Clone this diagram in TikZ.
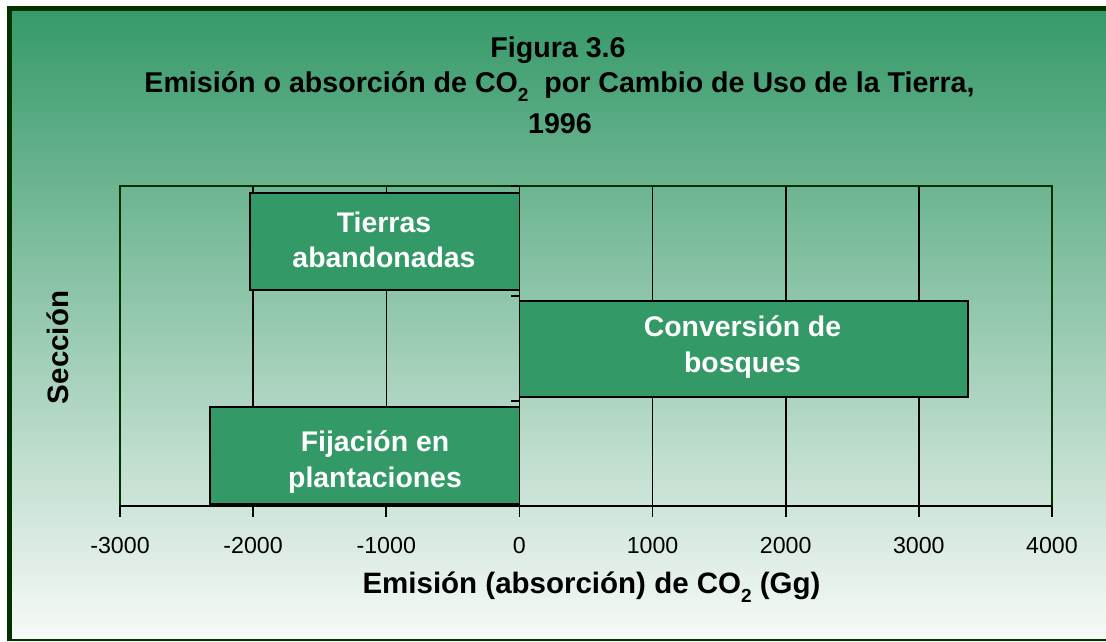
\documentclass[tikz,border=0pt]{standalone}
\usepackage{fontspec}
\setmainfont{Liberation Sans}

\definecolor{verdebarra}{RGB}{51,153,102}
\definecolor{verdeborde}{RGB}{0,51,0}
\definecolor{fondoalto}{RGB}{53,153,104}
\definecolor{fondobajo}{RGB}{248,250,248}

% subindice del CO2
\newcommand{\subdos}[1]{\raisebox{-0.32em}{\fontsize{19}{19}\selectfont #1}}

\tikzset{
  barra/.style={draw=black, fill=verdebarra, line width=1.8pt},
  etiqueta/.style={text=white, align=center, inner sep=0pt,
    font=\fontsize{28.4}{35.5}\selectfont\bfseries},
  titulo/.style={anchor=base, inner sep=0pt, font=\fontsize{28.6}{33}\selectfont\bfseries},
  marca/.style={anchor=base, inner sep=0pt, font=\fontsize{23.2}{26}\selectfont},
  eje/.style={black, line width=1.8pt},
  rejilla/.style={black, line width=1.6pt},
  marco/.style={verdeborde, line width=1.6pt}
}

\begin{document}
\begin{tikzpicture}[x=1pt, y=-1pt]
    \useasboundingbox (0,0) rectangle (1106,641);
    \fill[white] (0,0) rectangle (1106,641);
    \shade[top color=fondoalto, bottom color=fondobajo] (7,6) rectangle (1106,641);
    \draw[verdeborde, line width=5pt] (9.8,641) -- (9.8,8.5) -- (1106,8.5);
    \draw[verdeborde, line width=1.5pt] (9.8,640) -- (1106,640);

    % titulo
    \node[titulo] (fig) at (558,57) {Figura 3.6};
    \node[titulo] (tit) at (559.5,92) {Emisión o absorción de CO\subdos{2}\ \ por Cambio de Uso de la Tierra,};
    \node[titulo] (anio) at (560,133) {1996};

    % rejilla y marco
    \foreach \x in {253.1,386.3,652.6,785.7,918.8}
        \draw[rejilla] (\x,186) -- (\x,506);
    \draw[marco] (120,506) -- (120,186) -- (1052,186) -- (1052,506);

    % barras
    \draw[barra] (250,193) rectangle (519.4,290);
    \draw[barra] (519.4,301) rectangle (968,397);
    \draw[barra] (210,407) rectangle (519.4,504);
    \node[etiqueta] (tierras) at (384,240) {Tierras\\abandonadas};
    \node[etiqueta] (bosques) at (742.5,347) {Conversión de\\bosques};
    \node[etiqueta] (fijacion) at (375,462) {Fijación en\\plantaciones};

    % ejes
    \draw[eje] (519.4,186) -- (519.4,506);
    \foreach \y in {186,296,401,506}
        \draw[eje] (511,\y) -- (519.4,\y);
    \draw[eje] (120,506) -- (1052,506);
    \foreach \i/\v in {0/-3000,1/-2000,2/-1000,3/0,4/1000,5/2000,6/3000,7/4000} {
        \draw[eje] (120+\i*133.14,506) -- ++(0,11);
        \node[marca] (v\i) at (120+\i*133.14,553) {\v};
    }
    \node[titulo, font=\fontsize{29.5}{33}\selectfont\bfseries] (xlab) at (591.5,593) {Emisión (absorción) de CO\subdos{2} (Gg)};
    \node[font=\fontsize{29.5}{33}\selectfont\bfseries, rotate=90] (ylab) at (57.5,347.5) {Sección};
\end{tikzpicture}
\end{document}
